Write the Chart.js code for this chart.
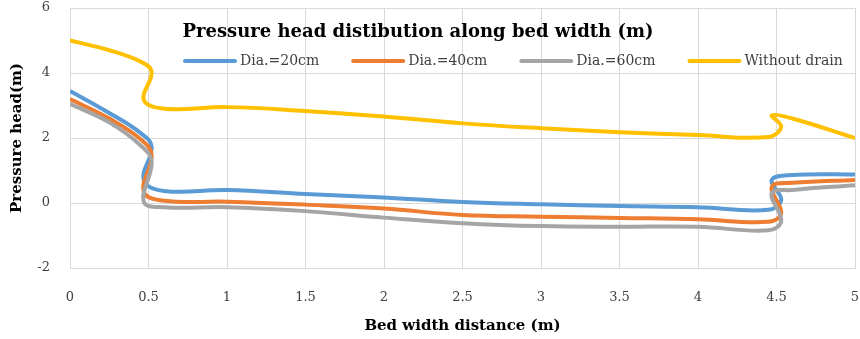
<!DOCTYPE html>
<html>
<head>
<meta charset="utf-8">
<script src="https://cdn.jsdelivr.net/npm/chart.js@4.4.1/dist/chart.umd.min.js"></script>
<style>
  html, body { margin: 0; padding: 0; background: #fff; }
  #wrap { width: 860px; height: 339px; position: relative; }
</style>
</head>
<body>
<div id="wrap"><canvas id="headChart"></canvas></div>
<script>
// data
const chartTitle = 'Pressure head distibution along bed width (m)';
const seriesNames = ['Dia.=20cm', 'Dia.=40cm', 'Dia.=60cm', 'Without drain'];
const seriesColors = ['#5B9BD5', '#ED7D31', '#A5A5A5', '#FFC000'];

// bed width distance (m), shared by all series (the drain jumps fold back a little)
const xValues = [0, 0.25, 0.45, 0.52, 0.47, 0.6, 1, 1.5, 2, 2.5, 3, 3.5, 4, 4.45, 4.53, 4.47, 4.6, 5];

// pressure head (m)
const dia20 = [3.45, 2.77, 2.15, 1.73, 0.71, 0.37, 0.4, 0.28, 0.17, 0.03, -0.04, -0.09, -0.13, -0.21, 0.1, 0.71, 0.86, 0.88];
const dia40 = [3.2, 2.6, 1.96, 1.48, 0.35, 0.07, 0.04, -0.05, -0.17, -0.37, -0.42, -0.46, -0.5, -0.58, -0.31, 0.5, 0.62, 0.71];
const dia60 = [3.05, 2.48, 1.77, 1.27, 0.04, -0.13, -0.13, -0.25, -0.45, -0.62, -0.71, -0.73, -0.73, -0.84, -0.55, 0.3, 0.4, 0.55];
const noDrain = [5.0, 4.7, 4.35, 4.03, 3.17, 2.9, 2.95, 2.83, 2.66, 2.45, 2.3, 2.18, 2.09, 2.03, 2.35, 2.7, 2.6, 2.0];

const xTicks = [0, 0.5, 1, 1.5, 2, 2.5, 3, 3.5, 4, 4.5, 5];
const yTicks = [-2, 0, 2, 4, 6];

const FONT = "'DejaVu Serif', 'Liberation Serif', serif";

function toPoints(ys) {
  return ys.map((y, i) => ({ x: xValues[i], y: y }));
}

const allSeries = [dia20, dia40, dia60, noDrain];
const datasets = allSeries.map((ys, i) => ({
  label: seriesNames[i],
  data: toPoints(ys),
  borderColor: seriesColors[i],
  backgroundColor: seriesColors[i],
  borderWidth: 4,
  pointRadius: 0,
  tension: 0.4,
  fill: false,
  order: allSeries.length - 1 - i   // later series on top
}));

// title and legend sit inside the plot area like in the Excel chart
const overlayPlugin = {
  id: 'overlay',
  afterDraw(chart) {
    const ctx = chart.ctx;
    ctx.save();
    ctx.fillStyle = '#000';
    ctx.font = "bold 18px " + FONT;
    ctx.textAlign = 'center';
    ctx.textBaseline = 'middle';
    ctx.fillText(chartTitle, 418, 32);

    ctx.font = "14px " + FONT;
    ctx.textAlign = 'left';
    let x = 183;
    const y = 61;
    chart.data.datasets.forEach(ds => {
      ctx.strokeStyle = ds.borderColor;
      ctx.lineWidth = 4;
      ctx.lineCap = 'round';
      ctx.beginPath();
      ctx.moveTo(x + 2, y);
      ctx.lineTo(x + 52, y);
      ctx.stroke();
      ctx.fillStyle = '#404040';
      ctx.fillText(ds.label, x + 57, y);
      x += 57 + ctx.measureText(ds.label).width + 32;
    });
    ctx.restore();
  }
};

new Chart(document.getElementById('headChart'), {
  type: 'line',
  data: { datasets: datasets },
  plugins: [overlayPlugin],
  options: {
    responsive: true,
    maintainAspectRatio: false,
    animation: false,
    layout: { padding: { top: 8, right: 5, left: 0, bottom: 0 } },
    plugins: {
      legend: { display: false },
      title: { display: false },
      tooltip: { enabled: false }
    },
    scales: {
      x: {
        type: 'linear',
        min: 0,
        max: 5,
        afterBuildTicks: s => { s.ticks = xTicks.map(v => ({ value: v })); },
        afterFit: s => { s.height = 71; s.paddingLeft = 0; s.paddingRight = 0; },
        grid: { color: '#d9d9d9', drawTicks: false },
        border: { color: '#d9d9d9' },
        ticks: {
          padding: 22, color: '#404040', font: { family: FONT, size: 13 }, maxRotation: 0,
          callback: v => String(v)
        },
        title: {
          display: true,
          text: 'Bed width distance (m)',
          color: '#000',
          font: { family: FONT, size: 15, weight: 'bold' },
          padding: { top: 0, bottom: 4 }
        }
      },
      y: {
        min: -2,
        max: 6,
        afterBuildTicks: s => { s.ticks = yTicks.map(v => ({ value: v })); },
        afterFit: s => { s.width = 70; s.paddingTop = 0; s.paddingBottom = 0; },
        grid: { color: '#d9d9d9', drawTicks: false },
        border: { color: '#d9d9d9' },
        ticks: { padding: 20, color: '#404040', font: { family: FONT, size: 13 }, callback: v => String(v) },
        title: {
          display: true,
          text: 'Pressure head(m)',
          color: '#000',
          font: { family: FONT, size: 15, weight: 'bold' },
          padding: { top: 8, bottom: 0 }
        }
      }
    }
  }
});
</script>
</body>
</html>
